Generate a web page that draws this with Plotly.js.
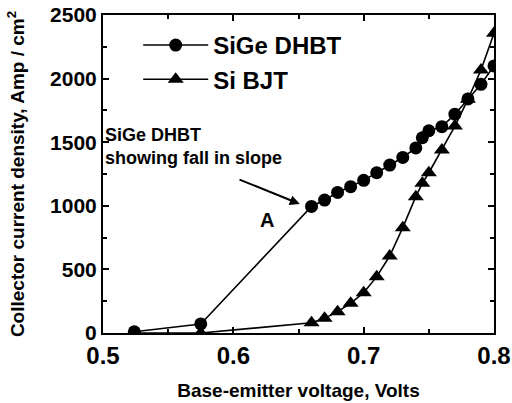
<!DOCTYPE html>
<html>
<head>
<meta charset="utf-8">
<script src="https://cdn.plot.ly/plotly-3.0.1.min.js"></script>
<style>html,body{margin:0;padding:0;background:#fff;}</style>
</head>
<body>
<div id="chart" style="width:512px;height:403px;"></div>
<script>
var sigeX = [0.524, 0.575, 0.66, 0.67, 0.68, 0.69, 0.70, 0.71, 0.72, 0.73, 0.74, 0.745, 0.75, 0.76, 0.77, 0.78, 0.79, 0.80];
var sigeY = [10, 71, 995, 1045, 1105, 1150, 1200, 1260, 1320, 1380, 1455, 1535, 1590, 1622, 1720, 1840, 1955, 2100];
var sibjtX = [0.524, 0.575, 0.66, 0.67, 0.68, 0.69, 0.70, 0.71, 0.72, 0.73, 0.74, 0.745, 0.75, 0.76, 0.77, 0.78, 0.79, 0.80];
var sibjtY = [0, 0, 80, 115, 168, 233, 317, 443, 605, 828, 1072, 1177, 1260, 1439, 1627, 1837, 2068, 2356];
var seriesNames = ["SiGe DHBT", "Si BJT"];
var xTickVals = [0.5, 0.6, 0.7, 0.8];
var xTickText = ["0.5", "0.6", "0.7", "0.8"];
var yTickVals = [0, 500, 1000, 1500, 2000, 2500];
var yTickText = ["0", "500", "1000", "1500", "2000", "2500"];

var F = "Liberation Sans, Arial, Helvetica, sans-serif";

var traces = [
  {x: sigeX, y: sigeY, name: seriesNames[0], type: 'scatter', mode: 'lines+markers',
   line: {color: '#000', width: 1.6}, marker: {symbol: 'circle', size: 13, color: '#000'}},
  {x: sibjtX, y: sibjtY, name: seriesNames[1], type: 'scatter', mode: 'lines+markers',
   line: {color: '#000', width: 1.6}, marker: {symbol: 'triangle-up', size: 14, color: '#000'}}
];

var axisCommon = {
  showline: true, linecolor: '#000', linewidth: 2, mirror: 'ticks',
  ticks: 'inside', ticklen: 6, tickwidth: 2, tickcolor: '#000',
  showgrid: false, zeroline: false
};

var layout = {
  width: 512, height: 403,
  margin: {l: 103, r: 18, t: 15, b: 70},
  paper_bgcolor: '#fff', plot_bgcolor: '#fff',
  font: {family: F, color: '#000', weight: 'bold'},
  showlegend: true,
  legend: {x: 0.09, y: 0.975, xanchor: 'left', yanchor: 'top', bgcolor: 'rgba(0,0,0,0)',
           font: {family: F, size: 24, weight: 'bold', color: '#000'}, itemwidth: 65, tracegroupgap: 0},
  xaxis: Object.assign({}, axisCommon, {
    range: [0.5, 0.8], tickvals: xTickVals, ticktext: xTickText,
    tickfont: {family: F, size: 24, weight: 'bold'},
    minor: {dtick: 0.05, tick0: 0.5, ticks: 'inside', ticklen: 4, tickwidth: 2, tickcolor: '#000'},
    title: {text: 'Base-emitter voltage, Volts', font: {family: F, size: 19, weight: 'bold'}, standoff: 16}
  }),
  yaxis: Object.assign({}, axisCommon, {
    range: [0, 2500], tickvals: yTickVals, ticktext: yTickText,
    tickfont: {family: F, size: 21, weight: 'bold'},
    minor: {dtick: 250, tick0: 0, ticks: 'inside', ticklen: 4, tickwidth: 2, tickcolor: '#000'},
    title: {text: 'Collector current density, Amp / cm<sup>2</sup>', font: {family: F, size: 19, weight: 'bold'}, standoff: 20}
  }),
  annotations: [
    {x: 0.5, y: 1650, xref: 'x', yref: 'y', xanchor: 'left', yanchor: 'top', align: 'left',
     text: 'SiGe DHBT<br>showing fall in slope', showarrow: false,
     font: {family: F, size: 18, weight: 'bold', color: '#000'}},
    {x: 0.651, y: 1014, ax: 0.6036, ay: 1211, xref: 'x', yref: 'y', axref: 'x', ayref: 'y',
     text: '', showarrow: true, arrowhead: 2, arrowsize: 1, arrowwidth: 2, arrowcolor: '#000'},
    {x: 0.626, y: 888, xref: 'x', yref: 'y', text: 'A', showarrow: false,
     font: {family: F, size: 20, weight: 'bold', color: '#000'}}
  ]
};

Plotly.newPlot('chart', traces, layout, {displayModeBar: false, staticPlot: true});
</script>
</body>
</html>
